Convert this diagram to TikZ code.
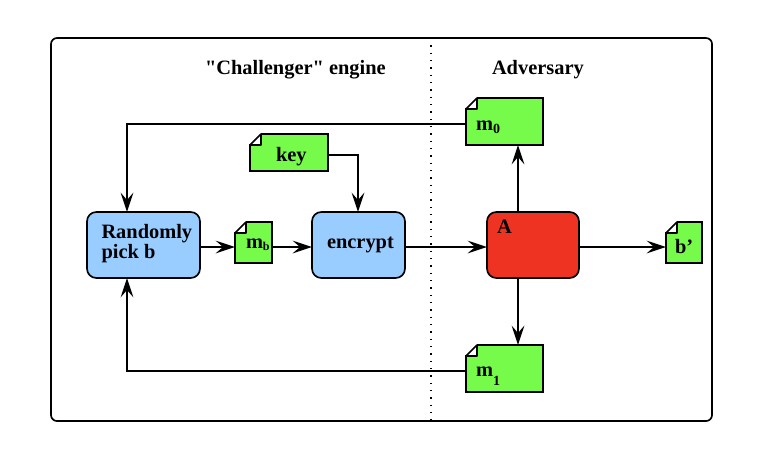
\documentclass[tikz,border=0pt]{standalone}
\usepackage{fontspec}
\setmainfont{Liberation Serif}
\newfontfamily\plainserif{Liberation Serif}
\usetikzlibrary{arrows.meta,positioning}
\definecolor{notegreen}{HTML}{76FB4B}
\definecolor{procblue}{HTML}{99CCFF}
\definecolor{advred}{HTML}{EE3322}
\tikzset{
  every node/.style={font=\bfseries\fontsize{15.3}{15}\selectfont,outer sep=0pt,inner sep=0pt},
  frame/.style={draw,line width=1.25pt,rounded corners=4.5pt},
  proc/.style={draw,line width=1.25pt,rounded corners=7pt,minimum height=49.5pt,fill=procblue},
  notebox/.style={draw,line width=1.25pt,fill=notegreen},
  txt/.style={anchor=base west},
  conn/.style={line width=1.15pt,-{Stealth[length=14.5pt,width=9.5pt,inset=5.5pt]}},
}
\newcommand{\fold}[1]{%
  \fill[white] ([yshift=0.7pt,xshift=-0.7pt]#1.north west) rectangle ([xshift=8.25pt,yshift=-7.6pt]#1.north west);
  \filldraw[fill=white,line width=1.25pt,line join=round] ([yshift=-8.25pt]#1.north west) -- ([xshift=8.25pt]#1.north west) -- ([xshift=8.25pt,yshift=-8.25pt]#1.north west) -- cycle;
}
\begin{document}
\begin{tikzpicture}[x=0.75pt,y=-0.75pt]
\useasboundingbox (0,0) rectangle (770,458);
\fill[white] (0,0) rectangle (770,458);
\node[frame,minimum width=495.75pt,minimum height=287.25pt] (outer) at (381.5,229.5) {};
\coordinate (divtop) at (431,38);
\coordinate (divbot) at (431,421);
\draw[line width=1.1pt,dash pattern=on 1.1pt off 4.4pt] (divtop) -- (divbot);
\node[txt] (title1) at (205,74) {\plainserif\bfseries "Challenger" engine};
\node[txt] (title2) at (492,74) {Adversary};
% process boxes
\node[proc,minimum width=84.75pt] (pick) at (143.5,245) {};
\node[txt,align=left,anchor=north west] (picklabel) at (101.5,224) {Randomly\\pick b};
\node[proc,minimum width=69.75pt] (enc) at (358.5,245) {};
\node[txt] (enclabel) at (327,248) {encrypt};
\node[proc,minimum width=69pt,fill=advred] (adv) at (533,245) {};
\node[txt] (advlabel) at (497,233) {A};
% notes
\node[notebox,minimum width=57.75pt,minimum height=35.25pt] (m0) at (504.5,121.5) {};
\node[notebox,minimum width=57.75pt,minimum height=35.25pt] (m1) at (504.5,368.5) {};
\node[notebox,minimum width=58.5pt,minimum height=27.75pt] (key) at (289,152.5) {};
\node[notebox,minimum width=27.75pt,minimum height=30.75pt] (mb) at (253.5,242.5) {};
\node[notebox,minimum width=27pt,minimum height=30.75pt] (bp) at (684,242.5) {};
\fold{m0}\fold{m1}\fold{key}\fold{mb}\fold{bp}
\node[txt] (keylabel) at (276,161) {key};
\node[txt] (bplabel) at (675,253) {b’};
\node[txt] (m0label) at (476,130) {m\raisebox{-2.6pt}{\fontsize{10.5}{10}\selectfont 0}};
\node[txt] (m1label) at (476,376) {m\raisebox{-7pt}{\fontsize{10.5}{10}\selectfont 1}};
\node[txt] (mblabel) at (246,248) {m\raisebox{-2.2pt}{\fontsize{9}{9}\selectfont b}};
% connectors
\coordinate (flow) at (0,247);
\coordinate (leftrail) at (127,0);
\coordinate (advaxis) at (518,0);
\coordinate (enctop) at (358,212);
\draw[conn] ([yshift=-1.9pt]m0.west) -| (leftrail |- pick.north);
\draw[conn] ([yshift=-1.9pt]m1.west) -| (leftrail |- pick.south);
\draw[conn] ([yshift=-1.9pt]key.east) -| (enctop);
\draw[conn] (pick.east |- flow) -- (mb.west |- flow);
\draw[conn] (mb.east |- flow) -- (enc.west |- flow);
\draw[conn] (enc.east |- flow) -- (adv.west |- flow);
\draw[conn] (adv.east |- flow) -- (bp.west |- flow);
\draw[conn] (advaxis |- adv.north) -- (advaxis |- m0.south);
\draw[conn] (advaxis |- adv.south) -- (advaxis |- m1.north);
\end{tikzpicture}
\end{document}
